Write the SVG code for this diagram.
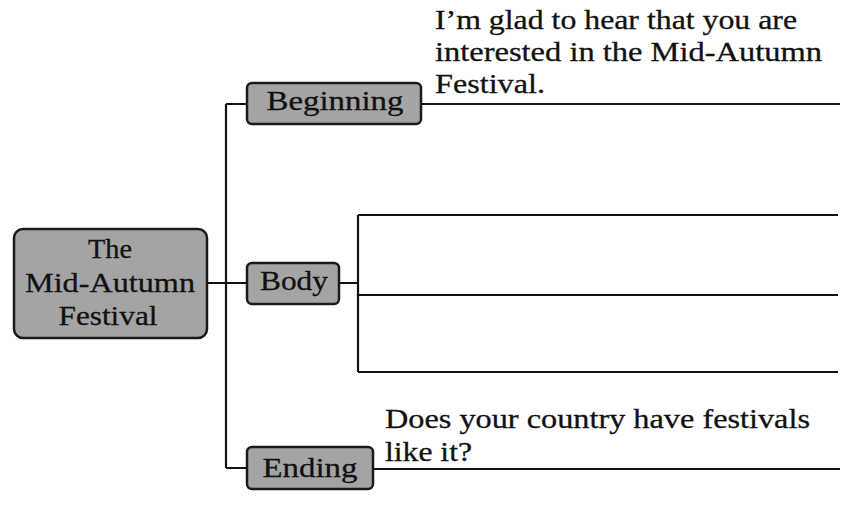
<svg xmlns="http://www.w3.org/2000/svg" width="863" height="505" viewBox="0 0 863 505">
<style>
.box{fill:#a4a4a4;stroke:#1a1a1a;stroke-width:2.5}
.ln{fill:none;stroke:#111;stroke-width:2.2}
.t{font-family:"Liberation Serif",serif;font-size:28px;fill:#111;stroke:#111;stroke-width:0.3}
.c{text-anchor:middle}
</style>
<rect width="863" height="505" fill="#fff"/>
<g id="connectors">
<path class="ln" d="M207 283H247M226 104V468M226 104H247M226 468H247"/>
<path class="ln" d="M421 104H840M339 283H358M358 215V372M358 215H838M358 295H838M358 372H838M373 469H840"/>
</g>
<g id="main">
<rect class="box" x="14" y="229" width="193" height="109" rx="9"/>
<text class="t c" x="110" y="258" textLength="44" lengthAdjust="spacingAndGlyphs">The</text>
<text class="t c" x="110" y="292" textLength="170" lengthAdjust="spacingAndGlyphs">Mid-Autumn</text>
<text class="t c" x="108" y="325" textLength="99" lengthAdjust="spacingAndGlyphs">Festival</text>
</g>
<g id="beginning">
<rect class="box" x="247" y="83" width="174" height="41" rx="5"/>
<text class="t c" x="335" y="110" textLength="137" lengthAdjust="spacingAndGlyphs">Beginning</text>
</g>
<g id="body">
<rect class="box" x="247" y="263" width="92" height="41" rx="5"/>
<text class="t c" x="294" y="290" textLength="68" lengthAdjust="spacingAndGlyphs">Body</text>
</g>
<g id="ending">
<rect class="box" x="247" y="447" width="126" height="42" rx="5"/>
<text class="t c" x="310" y="477" textLength="95" lengthAdjust="spacingAndGlyphs">Ending</text>
</g>
<g id="texts">
<text class="t" x="435" y="29" textLength="362" lengthAdjust="spacingAndGlyphs">I’m glad to hear that you are</text>
<text class="t" x="435" y="61" textLength="387" lengthAdjust="spacingAndGlyphs">interested in the Mid-Autumn</text>
<text class="t" x="435" y="93" textLength="110" lengthAdjust="spacingAndGlyphs">Festival.</text>
<text class="t" x="385" y="428" textLength="425" lengthAdjust="spacingAndGlyphs">Does your country have festivals</text>
<text class="t" x="385" y="461" textLength="87" lengthAdjust="spacingAndGlyphs">like it?</text>
</g>
</svg>
